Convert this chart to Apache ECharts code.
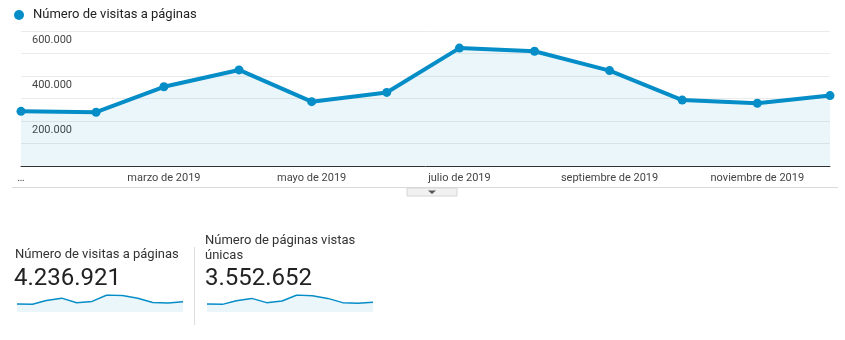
<!DOCTYPE html>
<html><head><meta charset="utf-8">
<script src="https://cdn.jsdelivr.net/npm/echarts@6/dist/echarts.min.js"></script>
<style>html,body{margin:0;padding:0;background:#fff}#c{width:845px;height:340px}</style>
</head><body><div id="c"></div>
<script>
const dates = ['2019-01-01','2019-02-01','2019-03-01','2019-04-01','2019-05-01','2019-06-01','2019-07-01','2019-08-01','2019-09-01','2019-10-01','2019-11-01','2019-12-01'];
const months = ['enero de 2019','febrero de 2019','marzo de 2019','abril de 2019','mayo de 2019','junio de 2019','julio de 2019','agosto de 2019','septiembre de 2019','octubre de 2019','noviembre de 2019','diciembre de 2019'];
const labelIdx = [0,2,4,6,8,10];
const pageViews = [243000,239000,352000,427000,286000,327000,524000,510000,424000,293000,279000,313000];
const uniquePageViews = [209000,200000,297000,356000,245000,288000,445000,428000,356000,245000,227000,254000];
const yTickLabels = {200000:'200.000',400000:'400.000',600000:'600.000'};
const seriesName = 'Número de visitas a páginas';
const totalPageViews = '4.236.921';
const uniqueName = ['Número de páginas vistas','únicas'];
const totalUnique = '3.552.652';

const blue = '#058dc7';
const font = 'Roboto, "Noto Sans", Arial, sans-serif';
// day number since first date
const t0 = Date.parse(dates[0] + 'T00:00:00Z');
const days = dates.map(d => Math.round((Date.parse(d + 'T00:00:00Z') - t0) / 86400000));
const pairs = (vals) => vals.map((v,i) => [days[i], v]);
const chart = echarts.init(document.getElementById('c'));
const sparkX = (i) => ({gridIndex:i,type:'value',min:days[0],max:days[days.length-1],show:false});
const sparkY = (i,d) => ({gridIndex:i,type:'value',min:0,max:Math.max(...d),show:false});
const sparkS = (i,d,name) => ({name:name,type:'line',xAxisIndex:i,yAxisIndex:i,data:pairs(d),symbol:'none',
  lineStyle:{color:blue,width:1.5},areaStyle:{color:'rgba(5,141,199,0.11)'},silent:true});
chart.setOption({
  animation:false,
  textStyle:{fontFamily:font},
  legend:{show:false},
  grid:[
    {left:21,right:15,top:31,height:135},
    {left:17,top:295,width:166,height:17},
    {left:207,top:295,width:166,height:17}
  ],
  xAxis:[
    {type:'value',min:days[0],max:days[days.length-1],
     axisLine:{lineStyle:{color:'#333',width:1}},axisTick:{show:false},splitLine:{show:false},
     axisLabel:{customValues:labelIdx.map(i=>days[i]),color:'#444',fontSize:11,margin:7,fontFamily:font,
       showMinLabel:true,hideOverlap:false,
       formatter:(v)=>{const i=days.indexOf(v); return i===0 ? '…' : (i>=0 ? months[i] : '');}}},
    sparkX(1),sparkX(2)
  ],
  yAxis:[
    {type:'value',min:0,max:600000,interval:100000,
     axisLine:{show:false},axisTick:{show:false},
     splitLine:{lineStyle:{color:'#ebebeb',width:1}},
     axisLabel:{inside:true,color:'#444',fontSize:11,fontFamily:font,verticalAlign:'top',
       padding:[4,0,0,3],formatter:v=>yTickLabels[v]||''}},
    sparkY(1,pageViews),sparkY(2,uniquePageViews)
  ],
  series:[
    {name:seriesName,type:'line',data:pairs(pageViews),symbol:'circle',symbolSize:9,
     itemStyle:{color:blue},lineStyle:{color:blue,width:4},
     areaStyle:{color:'rgba(5,141,199,0.11)'}},
    sparkS(1,pageViews,seriesName),
    sparkS(2,uniquePageViews,uniqueName.join(' '))
  ],
  graphic:[
    {type:'circle',shape:{cx:19,cy:15,r:5},style:{fill:blue}},
    {type:'text',left:33,top:8,style:{text:seriesName,font:'13px '+font,fill:'#222'}},
    {type:'line',shape:{x1:12,y1:187.5,x2:838,y2:187.5},style:{stroke:'#d9d9d9',lineWidth:1}},
    {type:'rect',shape:{x:407,y:188,width:50,height:8},style:{fill:'#f1f1f1',stroke:'#d6d6d6',lineWidth:1}},
    {type:'polygon',shape:{points:[[428,190.5],[436,190.5],[432,194]]},style:{fill:'#555'}},
    {type:'text',left:15,top:248,style:{text:seriesName,font:'13px '+font,fill:'#333'}},
    {type:'text',left:14,top:267,style:{text:totalPageViews,font:'24px '+font,fill:'#222'}},
    {type:'line',shape:{x1:194.5,y1:247,x2:194.5,y2:325},style:{stroke:'#ddd',lineWidth:1}},
    {type:'text',left:205,top:234,style:{text:uniqueName[0],font:'13px '+font,fill:'#333'}},
    {type:'text',left:205,top:249,style:{text:uniqueName[1],font:'13px '+font,fill:'#333'}},
    {type:'text',left:205,top:267,style:{text:totalUnique,font:'24px '+font,fill:'#222'}}
  ]
});
</script></body></html>
